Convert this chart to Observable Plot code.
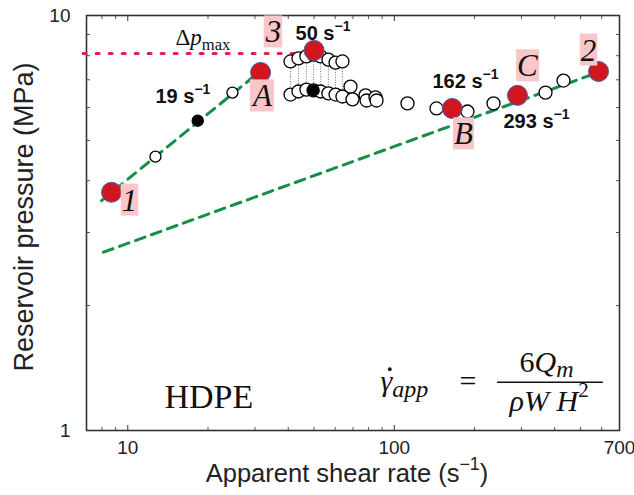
<!DOCTYPE html>
<html><head><meta charset="utf-8">
<script src="https://cdn.jsdelivr.net/npm/d3@7"></script>
<script src="https://cdn.jsdelivr.net/npm/@observablehq/plot@0.6"></script>
<style>body{margin:0;background:#fff}</style>
</head><body><div id="chart"></div>
<script>
// ---- axes ----
const xTickLabels = [10, 100, 700];
const xMajorTicks = [10, 100];
const xMinorTicks = [8, 9, 20, 30, 40, 50, 60, 70, 80, 90, 200, 300, 400, 500, 600];
const yTickLabels = [1, 10];
const yMinorTicks = [2, 3, 4, 5, 6, 7, 8, 9];

// ---- red "case" points ----
const caseNames = ["1", "A", "3", "B", "C", "2"];
const caseRate = [8.69, 31.5, 50, 165, 290, 584];
const casePressure = [3.75, 7.29, 8.24, 5.97, 6.42, 7.33];
const caseLabelRate = [10.15, 32.0, 35.2, 181.8, 316, 535.6];
const caseLabelPressure = [3.58, 6.38, 9.10, 5.17, 7.54, 8.23];

// ---- measured (open) points ----
const steepRate = [12.7, 24.7];
const steepPressure = [4.57, 6.52];
const upperRate = [40.8, 43.7, 46.8, 49.8, 52.9, 56.6, 60.2, 63.9];
const upperPressure = [7.75, 7.88, 7.97, 8.05, 7.97, 7.83, 7.70, 7.75];
const lowerPressure = [6.45, 6.56, 6.63, 6.60, 6.56, 6.49, 6.45, 6.38];
const tailRate = [68.5, 69.7, 78.0, 78.7, 85.0, 85.8, 112.1, 144.0, 188.2, 235.7, 369.4, 431.5];
const tailPressure = [6.74, 6.28, 6.42, 6.24, 6.35, 6.24, 6.14, 5.97, 5.87, 6.14, 6.52, 6.97];
const blackRate = [18.3, 49.8];
const blackPressure = [5.58, 6.60];

// ---- fitted power laws & max line ----
const fit1Rate = [7.97, 29.4];
const fit1Pressure = [3.58, 7.09];
const fit2Rate = [8.11, 554];
const fit2Pressure = [2.69, 7.21];
const dpMaxRate = [6.8, 46.4];
const dpMaxPressure = [8.10, 8.10];

// ---- annotations ----
const rateLabels = ["19 s§p:−1", "50 s§p:−1", "162 s§p:−1", "293 s§p:−1"];
const rateLabelX = [12.7, 42.6, 139.1, 256.9];
const rateLabelY = [6.17, 8.71, 6.67, 5.37];
const dpLabel = ["Δ§i:p§d:max"];
const dpLabelX = [15.1], dpLabelY = [8.47];
const materialLabel = ["HDPE"];
const materialX = [13.73], materialY = [1.136];
const eqLeft = ["§i:γ§iD:app"];
const eqLeftX = [88.8], eqLeftY = [1.242];
const eqDotX = [96.2], eqDotY = [1.405];
const eqEq = ["="];
const eqEqX = [189.1], eqEqY = [1.242];
const eqNum = ["6§i:Q§iD:m"];
const eqNumX = [372.6], eqNumY = [1.382];
const eqDen = ["§i:ρW H§p:2"];
const eqDenX = [381], eqDenY = [1.117];
const eqBarX = [244, 604];
const eqBarY = [1.307, 1.307];

const serif = "'Liberation Serif', 'Times New Roman', serif";
const sans = "'Liberation Sans', Arial, sans-serif";

const plot = Plot.plot({
  width: 634, height: 495,
  marginLeft: 86, marginRight: 15, marginTop: 15, marginBottom: 65,
  style: {fontFamily: sans, color: "#222", background: "#fff", overflow: "visible"},
  x: {type: "log", domain: [7, 700]},
  y: {type: "log", domain: [1, 10]},
  marks: [
    Plot.text(xTickLabels, {x: d => d, frameAnchor: "bottom", dy: 10, lineAnchor: "top", textAnchor: "middle", fontSize: 19, fill: "#222", text: d => String(d)}),
    Plot.axisX({ticks: xMajorTicks, tickFormat: () => "", tickSize: -5, label: null, stroke: "#333"}),
    Plot.axisX({ticks: xMinorTicks, tickFormat: () => "", tickSize: -3, label: null, stroke: "#555"}),
    Plot.axisX({anchor: "top", ticks: xMajorTicks, tickFormat: () => "", tickSize: -5, label: null, stroke: "#333"}),
    Plot.axisX({anchor: "top", ticks: xMinorTicks, tickFormat: () => "", tickSize: -3, label: null, stroke: "#555"}),
    Plot.axisY({ticks: yTickLabels, tickFormat: d => String(d), tickSize: 0, tickPadding: 16, fontSize: 19, label: null}),
    Plot.axisY({ticks: yMinorTicks, tickFormat: () => "", tickSize: -4, label: null, stroke: "#555"}),
    Plot.axisY({anchor: "right", ticks: yMinorTicks, tickFormat: () => "", tickSize: -4, label: null, stroke: "#555"}),
    Plot.frame({stroke: "#333", strokeWidth: 1.6}),
    Plot.text(["Reservoir pressure (MPa)"], {frameAnchor: "left", dx: -62, dy: -6, rotate: -90, fontSize: 27, textAnchor: "middle", lineAnchor: "middle", fill: "#222"}),
    Plot.text(["Apparent shear rate (s§p:−1§)"], {frameAnchor: "bottom", dx: -6, dy: 51, fontSize: 25.5, textAnchor: "middle", lineAnchor: "bottom", fill: "#222"}),

    // fits and Δp max line
    Plot.line(fit1Rate, {x: fit1Rate, y: fit1Pressure, stroke: "#148f47", strokeWidth: 3, strokeDasharray: "10,7"}),
    Plot.line(fit2Rate, {x: fit2Rate, y: fit2Pressure, stroke: "#148f47", strokeWidth: 3, strokeDasharray: "10,7"}),
    Plot.line(dpMaxRate, {x: dpMaxRate, y: dpMaxPressure, stroke: "#e0204a", strokeWidth: 3, strokeDasharray: "3,10"}),

    // pressure oscillation band
    Plot.ruleX(upperRate, {x: upperRate, y1: upperPressure, y2: lowerPressure, stroke: "#555", strokeWidth: 0.8, strokeDasharray: "1,1.5"}),

    // measured points
    Plot.dot(steepRate, {x: steepRate, y: steepPressure, r: 5.5, fill: "white", stroke: "black", strokeWidth: 1.3}),
    Plot.dot(upperRate, {x: upperRate, y: upperPressure, r: 6.5, fill: "white", stroke: "black", strokeWidth: 1.3}),
    Plot.dot(upperRate, {x: upperRate, y: lowerPressure, r: 6.5, fill: "white", stroke: "black", strokeWidth: 1.3}),
    Plot.dot(tailRate, {x: tailRate, y: tailPressure, r: 6.5, fill: "white", stroke: "black", strokeWidth: 1.3}),
    Plot.dot(blackRate, {x: blackRate, y: blackPressure, r: 5.5, fill: "black", stroke: "black"}),
    Plot.dot(caseRate, {x: caseRate, y: casePressure, r: 10, fill: "#d0161f", stroke: "#4a5aa8", strokeWidth: 1}),

    // annotations
    Plot.text(rateLabels, {x: rateLabelX, y: rateLabelY, text: rateLabels, fontSize: 20, fontWeight: "bold", textAnchor: "start", lineAnchor: "bottom", fill: "#111"}),
    Plot.text(caseNames, {x: caseLabelRate, y: caseLabelPressure, text: caseNames.map(n => "§BOX§i:" + n), fontFamily: serif, fontSize: 31, textAnchor: "middle", lineAnchor: "middle", fill: "#111"}),
    Plot.text(dpLabel, {x: dpLabelX, y: dpLabelY, text: dpLabel, fontFamily: serif, fontSize: 23, textAnchor: "start", lineAnchor: "bottom", fill: "#111"}),
    Plot.text(materialLabel, {x: materialX, y: materialY, text: materialLabel, fontFamily: serif, fontSize: 34, textAnchor: "start", lineAnchor: "bottom", fill: "#111"}),
    Plot.text(eqLeft, {x: eqLeftX, y: eqLeftY, text: eqLeft, fontFamily: serif, fontSize: 30, textAnchor: "start", lineAnchor: "bottom", fill: "#111"}),
    Plot.dot(eqDotX, {x: eqDotX, y: eqDotY, r: 1.9, fill: "#111", stroke: "none"}),
    Plot.text(eqEq, {x: eqEqX, y: eqEqY, text: eqEq, fontFamily: serif, fontSize: 30, textAnchor: "middle", lineAnchor: "bottom", fill: "#111"}),
    Plot.text(eqNum, {x: eqNumX, y: eqNumY, text: eqNum, fontFamily: serif, fontSize: 30, textAnchor: "middle", lineAnchor: "bottom", fill: "#111"}),
    Plot.text(eqDen, {x: eqDenX, y: eqDenY, text: eqDen, fontFamily: serif, fontSize: 30, textAnchor: "middle", lineAnchor: "bottom", fill: "#111"}),
    Plot.line(eqBarX, {x: eqBarX, y: eqBarY, stroke: "#111", strokeWidth: 1.3})
  ]
});

document.getElementById("chart").appendChild(plot);

// rich text: segments split by §, "flags:text"
// i=italic, d=subscript, D=larger subscript, p=superscript
function rich(svg) {
  d3.select(svg).selectAll("text").each(function () {
    const raw = this.textContent;
    if (!raw.includes("§")) return;
    const fs = parseFloat(getComputedStyle(this).fontSize) || 16;
    this.textContent = "";
    let cur = 0, box = false;
    raw.split("§").forEach(seg => {
      if (seg === "BOX") { box = true; return; }
      if (!seg) return;
      const m = /^([a-zA-Z]+):(.*)$/.exec(seg);
      const f = m ? m[1] : "";
      const s = m ? m[2] : seg;
      let shift = 0, size = null;
      if (f.includes("d")) { shift = 0.2 * fs; size = 0.72 * fs; }
      if (f.includes("D")) { shift = 0.17 * fs; size = 0.8 * fs; }
      if (f.includes("p")) { shift = -0.45 * fs; size = 0.7 * fs; }
      const ts = d3.select(this).append("tspan").text(s);
      if (f.includes("i")) ts.attr("font-style", "italic");
      if (size) ts.attr("font-size", size);
      const dy = shift - cur;
      if (dy) ts.attr("dy", dy);
      cur = shift;
    });
    if (box) {
      const bb = this.getBBox();
      const r = document.createElementNS("http://www.w3.org/2000/svg", "rect");
      r.setAttribute("x", bb.x - 1);
      r.setAttribute("y", bb.y + 1);
      r.setAttribute("width", bb.width + 2);
      r.setAttribute("height", bb.height - 3);
      r.setAttribute("fill", "#f9c6c9");
      const t = this.getAttribute("transform");
      if (t) r.setAttribute("transform", t);
      this.parentNode.insertBefore(r, this);
    }
  });
}
rich(plot);
</script>
</body></html>
